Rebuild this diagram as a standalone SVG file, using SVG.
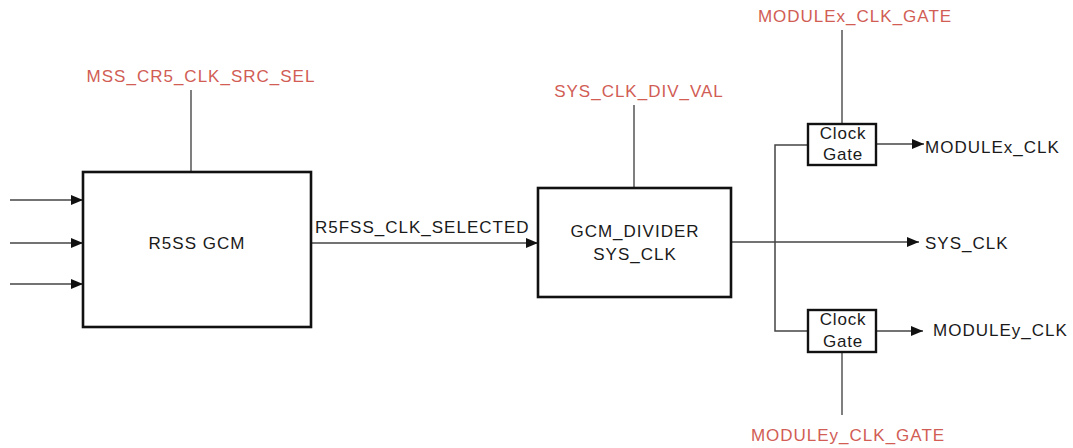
<svg xmlns="http://www.w3.org/2000/svg" width="1073" height="448" viewBox="0 0 1073 448">
<defs>
<marker id="arr" viewBox="0 0 12 10" refX="12" refY="5" markerWidth="12" markerHeight="10" markerUnits="userSpaceOnUse" orient="auto">
<path d="M0,0 L12,5 L0,10 Z" fill="#111"/>
</marker>
<style>
.box{fill:#fff;stroke:#111;stroke-width:2.6}
.gate{fill:#fff;stroke:#111;stroke-width:2.4}
.ln{fill:none;stroke:#444;stroke-width:1.5}
.ctl{fill:none;stroke:#555;stroke-width:1.5}
.t{font-family:"Liberation Sans",Arial,sans-serif;font-size:17px;letter-spacing:1px;fill:#1a1a1a}
.r{font-family:"Liberation Sans",Arial,sans-serif;font-size:17px;letter-spacing:1px;fill:#d15d55}
.g{font-family:"Liberation Sans",Arial,sans-serif;font-size:17px;letter-spacing:0.8px;fill:#1a1a1a}
</style>
</defs>
<rect width="1073" height="448" fill="#fff"/>
<g id="connectors">
<line class="ln" x1="10" y1="200" x2="83" y2="200" marker-end="url(#arr)"/>
<line class="ln" x1="10" y1="243" x2="83" y2="243" marker-end="url(#arr)"/>
<line class="ln" x1="10" y1="284" x2="83" y2="284" marker-end="url(#arr)"/>
<line class="ctl" x1="191" y1="90" x2="191" y2="172"/>
<line class="ln" x1="311" y1="243" x2="538" y2="243" marker-end="url(#arr)"/>
<line class="ctl" x1="634" y1="105" x2="634" y2="188"/>
<line class="ln" x1="731" y1="242" x2="919" y2="242" marker-end="url(#arr)"/>
<polyline class="ln" points="808,145 775,145 775,331 808,331"/>
<line class="ln" x1="876" y1="144" x2="924" y2="144" marker-end="url(#arr)"/>
<line class="ln" x1="876" y1="331" x2="923" y2="331" marker-end="url(#arr)"/>
<line class="ctl" x1="842" y1="30" x2="842" y2="124"/>
<line class="ctl" x1="842" y1="352" x2="842" y2="415"/>
</g>
<g id="r5ss_gcm">
<rect class="box" x="83" y="172" width="228" height="155"/>
<text class="t" x="197" y="249" text-anchor="middle">R5SS GCM</text>
</g>
<g id="gcm_divider">
<rect class="box" x="538" y="188" width="193" height="109"/>
<text class="t" x="635" y="237" text-anchor="middle">GCM_DIVIDER</text>
<text class="t" x="635" y="260" text-anchor="middle">SYS_CLK</text>
</g>
<g id="clock_gate_x">
<rect class="gate" x="808" y="124" width="68" height="41"/>
<text class="g" x="843" y="139" text-anchor="middle">Clock</text>
<text class="g" x="843" y="160" text-anchor="middle">Gate</text>
</g>
<g id="clock_gate_y">
<rect class="gate" x="808" y="310" width="68" height="42"/>
<text class="g" x="843" y="325" text-anchor="middle">Clock</text>
<text class="g" x="843" y="347" text-anchor="middle">Gate</text>
</g>
<g id="labels">
<text class="r" x="201" y="82" text-anchor="middle">MSS_CR5_CLK_SRC_SEL</text>
<text class="t" x="315" y="233">R5FSS_CLK_SELECTED</text>
<text class="r" x="639" y="97" text-anchor="middle">SYS_CLK_DIV_VAL</text>
<text class="r" x="855" y="22" text-anchor="middle">MODULEx_CLK_GATE</text>
<text class="t" x="925" y="153">MODULEx_CLK</text>
<text class="t" x="925" y="249">SYS_CLK</text>
<text class="t" x="933" y="336">MODULEy_CLK</text>
<text class="r" x="848" y="441" text-anchor="middle">MODULEy_CLK_GATE</text>
</g>
</svg>
